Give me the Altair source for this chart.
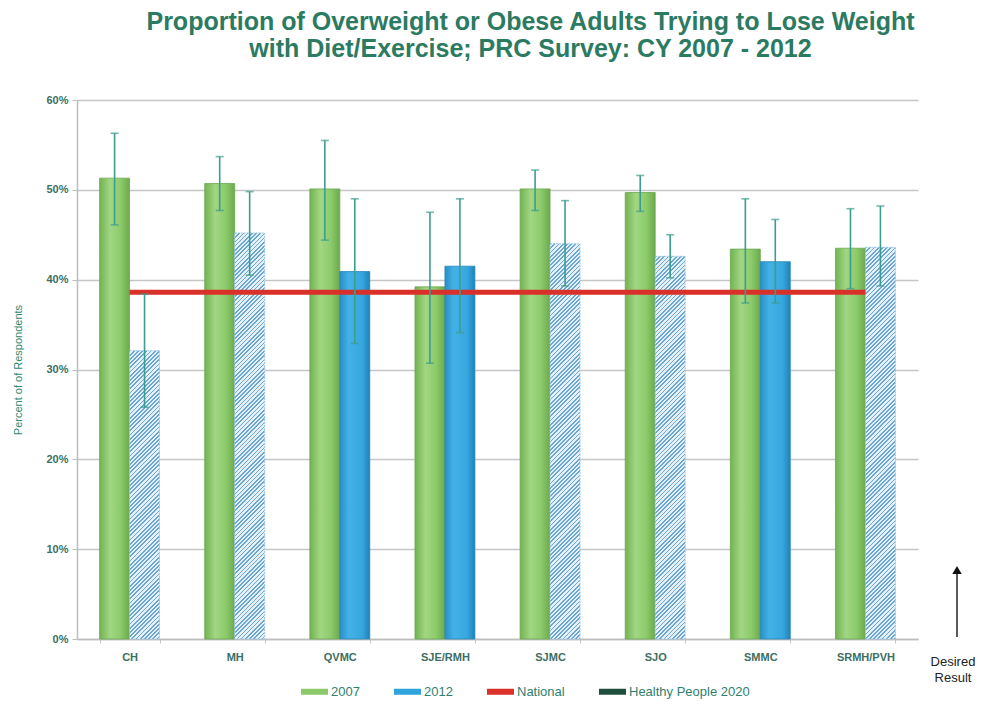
import altair as alt
import pandas as pd

# ---------------- data ----------------
sites = ["CH", "MH", "QVMC", "SJE/RMH", "SJMC", "SJO", "SMMC", "SRMH/PVH"]
years = ["2007", "2012"]
v2007 = [51.3, 50.7, 50.1, 39.2, 50.1, 49.7, 43.4, 43.5]
lo2007 = [46.1, 47.7, 44.4, 30.7, 47.7, 47.6, 37.4, 39.0]
hi2007 = [56.3, 53.7, 55.5, 47.5, 52.2, 51.6, 49.0, 47.9]
v2012 = [32.1, 45.2, 40.9, 41.5, 44.0, 42.6, 42.0, 43.6]
lo2012 = [25.8, 40.5, 32.9, 34.1, 39.3, 40.2, 37.4, 39.3]
hi2012 = [38.4, 49.8, 49.0, 49.0, 48.8, 45.0, 46.7, 48.2]
hatched2012 = [True, True, False, False, True, True, False, True]
national_value = 38.6
legend_items = ["2007", "2012", "National", "Healthy People 2020"]
legend_colors = ["#8cc96b", "#2fa3dc", "#d9302a", "#1f4e3d"]
y_ticks = [0, 0.1, 0.2, 0.3, 0.4, 0.5, 0.6]

# ---------------- layout ----------------
W, H = 841, 539
Y_MAX = 0.6
PAD_INNER = 0.43
TEAL = "#3b6f63"

rows = []
for i, s in enumerate(sites):
    rows.append(dict(site=s, year="2007", value=v2007[i] / 100, lo=lo2007[i] / 100,
                     hi=hi2007[i] / 100, style="solid"))
    rows.append(dict(site=s, year="2012", value=v2012[i] / 100, lo=lo2012[i] / 100,
                     hi=hi2012[i] / 100, style="hatched" if hatched2012[i] else "solid"))
df = pd.DataFrame(rows)
nat_df = pd.DataFrame({"site": sites, "value": [national_value / 100] * len(sites),
                       "series": ["National"] * len(sites)})

x_enc = alt.X("site:N", sort=sites, title=None,
              scale=alt.Scale(paddingInner=PAD_INNER, paddingOuter=PAD_INNER / 2),
              axis=alt.Axis(labelFont="Liberation Sans", labelFontSize=11, labelFontWeight="bold",
                            labelColor=TEAL, labelPadding=8, tickBand="extent", ticks=True,
                            tickSize=4, tickColor="#c4c4c4", domainColor="#bdbdbd",
                            domainWidth=1.5, labelAngle=0, grid=False))
xoff_enc = alt.XOffset("year:N", sort=years,
                       scale=alt.Scale(paddingInner=0, paddingOuter=0))
y_enc = alt.Y("value:Q", scale=alt.Scale(domain=[0, Y_MAX], nice=False),
              title="Percent of of Respondents",
              axis=alt.Axis(values=y_ticks, format=".0%", labelFont="Liberation Sans",
                            labelFontSize=11, labelFontWeight="bold", labelColor=TEAL,
                            labelPadding=4, tickSize=5, tickColor="#bdbdbd",
                            domainColor="#bdbdbd", domainWidth=1.5,
                            gridColor="#c6c6c6", gridWidth=1.5,
                            titleFont="Liberation Sans", titleFontSize=11,
                            titleFontWeight="normal", titleColor="#2d8a6f", titlePadding=22))

green_grad = {"gradient": "linear", "x1": 0, "y1": 0, "x2": 1, "y2": 0,
              "stops": [{"offset": 0, "color": "#72b351"}, {"offset": 0.35, "color": "#a2d683"},
                        {"offset": 0.7, "color": "#8ccb6b"}, {"offset": 1, "color": "#6ca94c"}]}
blue_grad = {"gradient": "linear", "x1": 0, "y1": 0, "x2": 1, "y2": 0,
             "stops": [{"offset": 0, "color": "#2a8fc6"}, {"offset": 0.3, "color": "#43b2e6"},
                       {"offset": 0.75, "color": "#36a6de"}, {"offset": 1, "color": "#1f82b8"}]}

base = alt.Chart(df)

bars2007 = base.transform_filter(alt.datum.year == "2007").mark_bar(
    fill=green_grad, stroke="#6aa84f", strokeWidth=0.8
).encode(x=x_enc, xOffset=xoff_enc, y=y_enc)

bars2012 = base.transform_filter(
    (alt.datum.year == "2012") & (alt.datum.style == "solid")
).mark_bar(fill=blue_grad, stroke="#2385bb", strokeWidth=0.8).encode(
    x=x_enc, xOffset=xoff_enc, y=y_enc)

# hatched (diagonal stripes) bars: gradient with hard stops in bounding-box space
bar_w = W / len(sites) * (1 - PAD_INNER) / 2
period, stripe = 4.2, 1.7
STRIPE_C, BG_C = "#6aa6d3", "#e6f0f8"
hatch_layers = []
for i, s in enumerate(sites):
    if not hatched2012[i]:
        continue
    h = v2012[i] / 100 / Y_MAX * H
    L = bar_w + h
    sc = L / (bar_w ** 2 + h ** 2)
    stops = []
    k = 0.0
    while k < L:
        a = k / L
        b = min((k + stripe) / L, 1)
        c = min((k + period) / L, 1)
        stops += [{"offset": a, "color": STRIPE_C}, {"offset": b, "color": STRIPE_C},
                  {"offset": b, "color": BG_C}, {"offset": c, "color": BG_C}]
        k += period
    grad = {"gradient": "linear", "x1": 0, "y1": 0, "x2": sc * bar_w, "y2": sc * h,
            "stops": stops}
    layer = base.transform_filter(
        (alt.datum.site == s) & (alt.datum.year == "2012")
    ).mark_bar(fill=grad, stroke="#9cc8e6", strokeWidth=1, strokeDash=[2, 1]).encode(
        x=x_enc, xOffset=xoff_enc, y=y_enc)
    hatch_layers.append(layer)

national = alt.Chart(nat_df).mark_line(strokeWidth=5).encode(
    x=x_enc, y=y_enc,
    color=alt.Color("series:N", scale=alt.Scale(domain=legend_items, range=legend_colors),
                    legend=alt.Legend(title=None, orient="none", direction="horizontal",
                                      legendX=221, legendY=575, symbolType="stroke",
                                      symbolSize=729, symbolStrokeWidth=6, labelOffset=0,
                                      columnPadding=22, labelFont="Liberation Sans",
                                      labelFontSize=13, labelColor="#2e7f6f")))

err_color = "#3c9d8f"
err = base.mark_rule(color=err_color, strokeWidth=1.6).encode(
    x=x_enc, xOffset=xoff_enc, y=alt.Y("lo:Q", scale=alt.Scale(domain=[0, Y_MAX], nice=False)),
    y2="hi:Q")
cap_lo = base.mark_tick(color=err_color, orient="horizontal", size=8, thickness=1.6).encode(
    x=x_enc, xOffset=xoff_enc, y=alt.Y("lo:Q"))
cap_hi = base.mark_tick(color=err_color, orient="horizontal", size=8, thickness=1.6).encode(
    x=x_enc, xOffset=xoff_enc, y=alt.Y("hi:Q"))

one = alt.Data(values=[{}])
arrow_line = alt.Chart(one).mark_rule(color="#222222", strokeWidth=1.5).encode(
    x=alt.value(880), y=alt.value(474), y2=alt.value(537))
arrow_head = alt.Chart(one).mark_point(shape="triangle-up", filled=True, size=90,
                                       color="#111111", opacity=1).encode(
    x=alt.value(880), y=alt.value(470))
desired = alt.Chart(one).mark_text(text=["Desired", "Result"], lineHeight=16, fontSize=13,
                                   font="Liberation Sans", color="#222222", align="center",
                                   baseline="middle").encode(
    x=alt.value(876), y=alt.value(562))

chart = alt.layer(
    bars2007, bars2012, *hatch_layers, national, err, cap_lo, cap_hi,
    arrow_line, arrow_head, desired
).properties(
    width=W, height=H,
    title=alt.Title(["Proportion of Overweight or Obese Adults Trying to Lose Weight",
                     "with Diet/Exercise; PRC Survey: CY 2007 - 2012"],
                    font="Liberation Sans", fontSize=25, fontWeight="bold",
                    color="#2b7a62", anchor="middle", dx=33, offset=32, lineHeight=27),
    padding={"left": 69, "top": 92, "right": 61, "bottom": 60},
    autosize=alt.AutoSizeParams(type="none"),
    background="white",
).configure_view(stroke=None)

chart.save("out.html", embed_options={"renderer": "svg", "actions": False})
